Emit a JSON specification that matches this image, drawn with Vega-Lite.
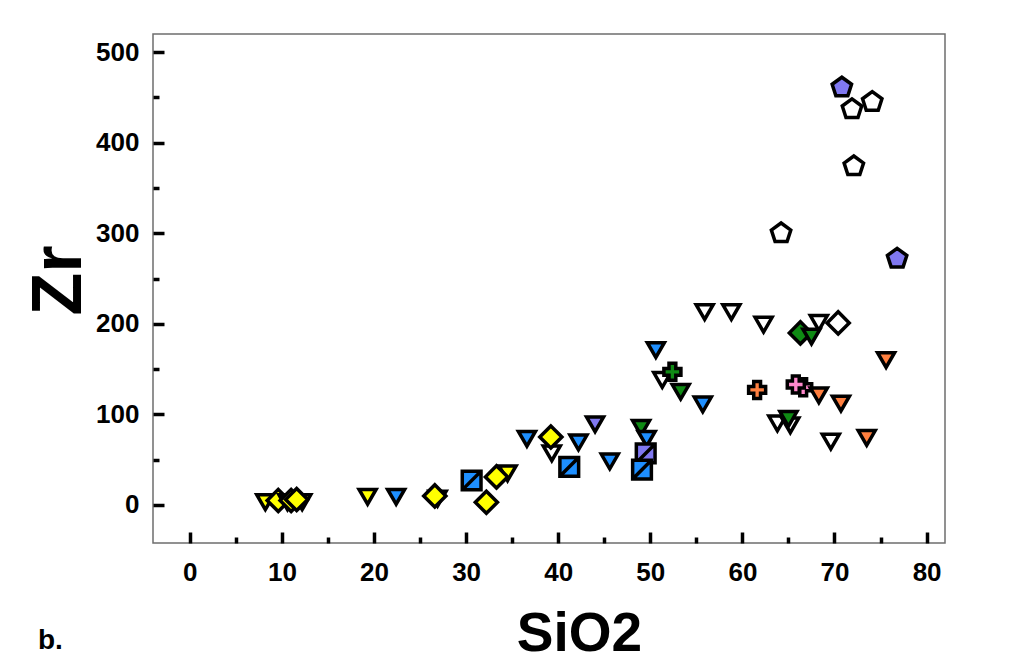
{
  "$schema": "https://vega.github.io/schema/vega-lite/v6.json",
  "width": 792,
  "height": 509,
  "autosize": {"type": "none"},
  "padding": {"left": 153, "top": 34, "right": 79, "bottom": 126},
  "background": "white",
  "title": {"text": "b.", "orient": "bottom", "anchor": "start", "frame": "group", "font": "Liberation Sans", "fontSize": 28, "fontWeight": "bold", "color": "black", "dx": -115, "dy": -34, "offset": 0},
  "config": {
    "view": {"stroke": "#6e6e6e", "strokeWidth": 1.5}
  },
  "data": {"values": [
    {"x": 8.2, "y": 3, "m": "tri", "c": "yellow"},
    {"x": 9.6, "y": 5, "m": "diamond", "c": "yellow"},
    {"x": 10.6, "y": 3, "m": "tri", "c": "yellow"},
    {"x": 11.0, "y": 5, "m": "diamond", "c": "yellow"},
    {"x": 12.2, "y": 3, "m": "tri", "c": "yellow"},
    {"x": 11.6, "y": 6, "m": "diamond", "c": "yellow"},
    {"x": 19.3, "y": 9, "m": "tri", "c": "yellow"},
    {"x": 22.4, "y": 9, "m": "tri", "c": "blue"},
    {"x": 26.9, "y": 7, "m": "tri", "c": "yellow"},
    {"x": 26.6, "y": 10, "m": "diamond", "c": "yellow"},
    {"x": 30.6, "y": 27, "m": "sqdiag", "c": "blue"},
    {"x": 32.2, "y": 3, "m": "diamond", "c": "yellow"},
    {"x": 34.5, "y": 35, "m": "tri", "c": "yellow"},
    {"x": 33.3, "y": 31, "m": "diamond", "c": "yellow"},
    {"x": 36.6, "y": 73, "m": "tri", "c": "blue"},
    {"x": 39.3, "y": 57, "m": "tri", "c": "white"},
    {"x": 39.2, "y": 75, "m": "diamond", "c": "yellow"},
    {"x": 41.2, "y": 42, "m": "sqdiag", "c": "blue"},
    {"x": 42.2, "y": 69, "m": "tri", "c": "blue"},
    {"x": 44.0, "y": 89, "m": "tri", "c": "purple"},
    {"x": 45.6, "y": 48, "m": "tri", "c": "blue"},
    {"x": 49.0, "y": 85, "m": "tri", "c": "green"},
    {"x": 49.6, "y": 73, "m": "tri", "c": "blue"},
    {"x": 49.5, "y": 57, "m": "sqdiag", "c": "purple"},
    {"x": 49.1, "y": 39, "m": "sqdiag", "c": "blue"},
    {"x": 50.6, "y": 171, "m": "tri", "c": "blue"},
    {"x": 51.3, "y": 138, "m": "tri", "c": "white"},
    {"x": 52.4, "y": 147, "m": "plus", "c": "green"},
    {"x": 53.3, "y": 125, "m": "tri", "c": "green"},
    {"x": 55.7, "y": 111, "m": "tri", "c": "blue"},
    {"x": 55.9, "y": 213, "m": "tri", "c": "white"},
    {"x": 58.8, "y": 213, "m": "tri", "c": "white"},
    {"x": 62.3, "y": 199, "m": "tri", "c": "white"},
    {"x": 61.6, "y": 127, "m": "plus", "c": "orange"},
    {"x": 63.8, "y": 90, "m": "tri", "c": "white"},
    {"x": 65.2, "y": 88, "m": "tri", "c": "white"},
    {"x": 65.0, "y": 95, "m": "tri", "c": "green"},
    {"x": 64.2, "y": 300, "m": "pent", "c": "white"},
    {"x": 66.6, "y": 130, "m": "plus", "c": "pink"},
    {"x": 65.8, "y": 133, "m": "plus", "c": "pink"},
    {"x": 66.3, "y": 190, "m": "diamond", "c": "green"},
    {"x": 68.3, "y": 201, "m": "tri", "c": "white"},
    {"x": 67.5, "y": 186, "m": "tri", "c": "green"},
    {"x": 70.4, "y": 201, "m": "diamond", "c": "white"},
    {"x": 68.3, "y": 121, "m": "tri", "c": "orange"},
    {"x": 70.7, "y": 112, "m": "tri", "c": "orange"},
    {"x": 69.6, "y": 70, "m": "tri", "c": "white"},
    {"x": 73.5, "y": 74, "m": "tri", "c": "orange"},
    {"x": 75.6, "y": 160, "m": "tri", "c": "orange"},
    {"x": 70.8, "y": 461, "m": "pent", "c": "purple"},
    {"x": 71.9, "y": 437, "m": "pent", "c": "white"},
    {"x": 74.1, "y": 445, "m": "pent", "c": "white"},
    {"x": 72.1, "y": 374, "m": "pent", "c": "white"},
    {"x": 76.8, "y": 272, "m": "pent", "c": "purple"}
  ]},
  "resolve": {"axis": {"x": "independent", "y": "independent"}},
  "layer": [
    {
      "mark": {"type": "point", "filled": false, "stroke": "black", "strokeWidth": 3.5, "opacity": 1, "size": 290},
      "encoding": {
        "x": {"field": "x", "type": "quantitative", "scale": {"domain": [-4, 82], "nice": false, "zero": false},
          "axis": {"orient": "bottom", "values": [0,10,20,30,40,50,60,70,80],
            "domain": false, "grid": false, "ticks": false,
            "labelFont": "Liberation Sans", "labelFontWeight": "bold", "labelFontSize": 26, "labelColor": "black",
            "labelPadding": 16, "title": "SiO2", "titleFont": "Liberation Sans", "titleFontWeight": "bold", "titleColor": "black", "titleFontSize": 55, "titleX": 426, "titleY": 107, "titleBaseline": "alphabetic", "titleAlign": "center"}},
        "y": {"field": "y", "type": "quantitative", "scale": {"domain": [-42, 520], "nice": false, "zero": false},
          "axis": {"orient": "left", "values": [0,100,200,300,400,500],
            "domain": false, "grid": false, "ticks": false,
            "labelFont": "Liberation Sans", "labelFontWeight": "bold", "labelFontSize": 26, "labelColor": "black",
            "labelPadding": 14, "title": "Zr", "titleFont": "Liberation Sans", "titleFontWeight": "bold", "titleColor": "black", "titleFontSize": 70, "titleX": -73, "titleY": 246, "titleAngle": -90, "titleBaseline": "alphabetic", "titleAlign": "center"}},
        "shape": {"field": "m", "type": "nominal", "legend": null,
          "scale": {"domain": ["tri", "diamond", "sqdiag", "plus", "pent"],
            "range": ["triangle-down", "M0,-1.3L1.3,0L0,1.3L-1.3,0Z", "M-1.1,-1.1H1.1V1.1H-1.1Z M-1.1,1.1L1.1,-1.1", "cross", "M0,-1.2L1.141,-0.371L0.705,0.971L-0.705,0.971L-1.141,-0.371Z"]}},
        "fill": {"field": "c", "type": "nominal", "legend": null,
          "scale": {"domain": ["yellow", "blue", "white", "purple", "green", "orange", "pink"],
            "range": ["#ffff00", "#1e8fff", "#ffffff", "#8078f0", "#0f8a14", "#ff7f3f", "#ff88cc"]}}
      }
    },
    {
      "transform": [{"filter": "false"}],
      "mark": {"type": "point"},
      "encoding": {
        "x": {"field": "x", "type": "quantitative",
          "axis": {"orient": "top", "offset": -509, "values": [0,5,10,15,20,25,30,35,40,45,50,55,60,65,70,75,80],
            "domain": false, "grid": false, "labels": false, "title": null, "ticks": true, "tickColor": "black", "tickWidth": 3.5,
            "tickSize": {"condition": {"test": "datum.value % 10 === 0", "value": 11}, "value": 6}}},
        "y": {"field": "y", "type": "quantitative",
          "axis": {"orient": "right", "offset": -792, "values": [0,50,100,150,200,250,300,350,400,450,500],
            "domain": false, "grid": false, "labels": false, "title": null, "ticks": true, "tickColor": "black", "tickWidth": 3.5,
            "tickSize": {"condition": {"test": "datum.value % 100 === 0", "value": 11}, "value": 6}}}
      }
    }
  ]
}
